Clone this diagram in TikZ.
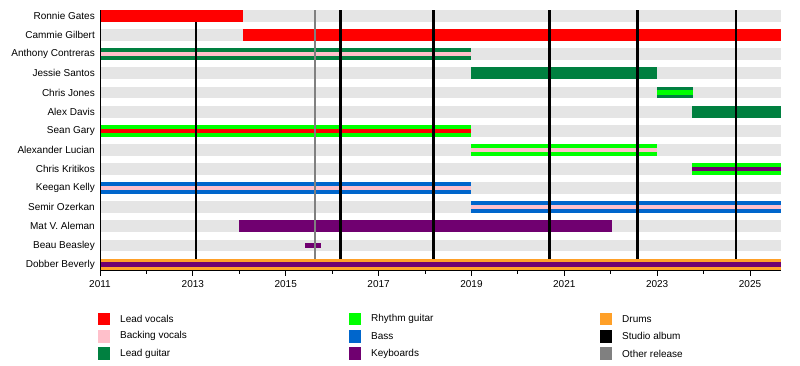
\documentclass[tikz,border=0pt]{standalone}
\usepackage{fontspec}
\setmainfont{Liberation Sans}

\definecolor{leadvox}{RGB}{255,0,0}
\definecolor{backvox}{RGB}{255,192,203}
\definecolor{leadgtr}{RGB}{0,128,64}
\definecolor{rhythmgtr}{RGB}{0,255,0}
\definecolor{bass}{RGB}{0,102,204}
\definecolor{keys}{RGB}{112,0,112}
\definecolor{drums}{RGB}{255,160,40}
\definecolor{rowgray}{RGB}{229,229,229}
\definecolor{otherrel}{RGB}{128,128,128}

% full-height bar and thin centre stripe: row, from, to, colour
\newcommand{\memberbar}[4]{\fill[#4] ({yx(#2)},{ry(#1)-5.9}) rectangle ({yx(#3)},{ry(#1)+5.9});}
\newcommand{\rolestripe}[4]{\fill[#4] ({yx(#2)},{ry(#1)-2.2}) rectangle ({yx(#3)},{ry(#1)+2.2});}

\begin{document}
\begin{tikzpicture}[x=1pt,y=-1pt,font=\fontsize{10}{12}\selectfont,
    declare function={yx(\t)=100+(\t-2011)*46.43; ry(\r)=16+19.12*\r;},
    albumline/.style={line width=2.7pt},
    legendbox/.style={minimum width=12pt,minimum height=12.6pt,inner sep=0pt}]
  \useasboundingbox (0,0) rectangle (800,365);

  % rows and names
  \foreach \i/\name in {0/Ronnie Gates, 1/Cammie Gilbert, 2/Anthony Contreras,
      3/Jessie Santos, 4/Chris Jones, 5/Alex Davis, 6/Sean Gary,
      7/Alexander Lucian, 8/Chris Kritikos, 9/Keegan Kelly, 10/Semir Ozerkan,
      11/Mat V. Aleman, 12/Beau Beasley, 13/Dobber Beverly} {
    \fill[rowgray] (101,{ry(\i)-5.9}) rectangle (781,{ry(\i)+5.9});
    \node[anchor=east,inner sep=0pt] (member\i) at (95,{ry(\i)}) {\name};
  }

  % members
  \memberbar{1}{2014.08}{2025.67}{leadvox}
  \memberbar{2}{2011}{2019}{leadgtr}
  \rolestripe{2}{2011}{2019}{backvox}
  \memberbar{3}{2019}{2023}{leadgtr}
  \memberbar{4}{2023}{2023.77}{leadgtr}
  \rolestripe{4}{2023}{2023.77}{rhythmgtr}
  \memberbar{5}{2023.75}{2025.67}{leadgtr}
  \memberbar{6}{2011}{2019}{rhythmgtr}
  \rolestripe{6}{2011}{2019}{leadvox}
  \memberbar{7}{2019}{2023}{rhythmgtr}
  \rolestripe{7}{2019}{2023}{backvox}
  \memberbar{8}{2023.75}{2025.67}{rhythmgtr}
  \rolestripe{8}{2023.75}{2025.67}{keys}
  \memberbar{9}{2011}{2019}{bass}
  \rolestripe{9}{2011}{2019}{backvox}
  \memberbar{10}{2019}{2025.67}{bass}
  \rolestripe{10}{2019}{2025.67}{backvox}
  \memberbar{11}{2014}{2022.02}{keys}
  \rolestripe{12}{2015.42}{2015.76}{keys}

  % releases
  \draw[albumline,otherrel] ({yx(2015.63)},10) -- ({yx(2015.63)},258.5);
  \foreach \t in {2013.07,2016.18,2018.18,2020.68,2022.57,2024.70}
    \draw[albumline] ({yx(\t)},10) -- ({yx(\t)},258.5);

  % first and last rows sit over the lines
  \memberbar{0}{2011}{2014.08}{leadvox}
  \memberbar{13}{2011}{2025.67}{drums}
  \rolestripe{13}{2011}{2025.67}{keys}

  % axis
  \draw[line width=0.8pt] (100,10) -- (100,270) -- (781,270);
  \foreach \yr in {2011,2013,...,2025} {
    \draw[line width=0.8pt] ({yx(\yr)},270) -- ({yx(\yr)},276);
    \node (year\yr) at ({yx(\yr)},284.5) {\yr};
  }
  \foreach \yr in {2012,2014,...,2024}
    \draw[line width=0.8pt] ({yx(\yr)},270) -- ({yx(\yr)},273.5);

  % legend
  \foreach \c/\txt [count=\k from 0] in {leadvox/Lead vocals, backvox/Backing vocals,
      leadgtr/Lead guitar, rhythmgtr/Rhythm guitar, bass/Bass, keys/Keyboards,
      drums/Drums, black/Studio album, otherrel/Other release} {
    \pgfmathtruncatemacro{\col}{\k/3}
    \pgfmathtruncatemacro{\row}{mod(\k,3)}
    \node[legendbox,fill=\c] (key\k) at ({104+251*\col},{319+17.3*\row}) {};
    \node[anchor=west,inner sep=0pt] (keytext\k) at ({120+251*\col},{319+17.3*\row}) {\txt};
  }
\end{tikzpicture}
\end{document}
